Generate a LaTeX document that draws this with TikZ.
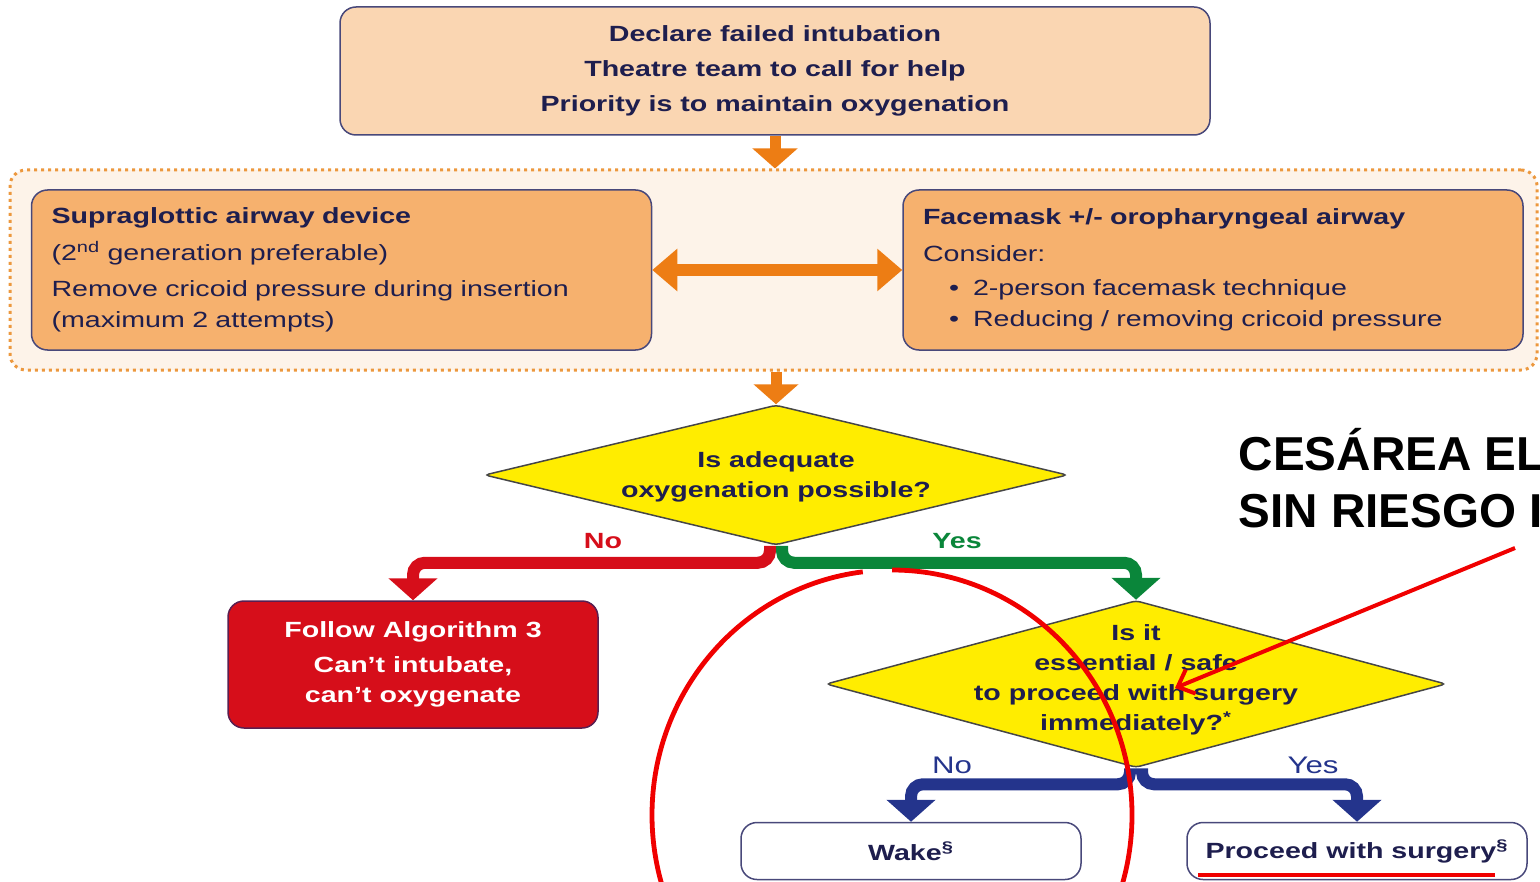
\documentclass[tikz,border=0pt]{standalone}
\usepackage{fontspec}
\setmainfont{Liberation Sans}[FakeStretch=1.3]
\newfontfamily\notefont{Liberation Sans}
\usetikzlibrary{arrows.meta,shapes.geometric}

\definecolor{peach}{RGB}{250,214,178}
\definecolor{amber}{RGB}{246,177,110}
\definecolor{shell}{RGB}{253,243,233}
\definecolor{dots}{RGB}{236,152,62}
\definecolor{flow}{RGB}{237,125,20}
\definecolor{ink}{RGB}{30,30,78}
\definecolor{edge}{RGB}{72,72,122}
\definecolor{lemon}{RGB}{255,237,0}
\definecolor{rim}{RGB}{70,70,70}
\definecolor{alarm}{RGB}{214,14,26}
\definecolor{plum}{RGB}{90,30,80}
\definecolor{go}{RGB}{10,134,58}
\definecolor{deep}{RGB}{36,52,140}
\definecolor{marker}{RGB}{240,0,0}

\tikzset{every picture/.style={line width=0.75pt}}
\tikzset{
  topbox/.style={draw=edge, fill=peach, rounded corners=8pt, minimum width=435pt, minimum height=64pt,
    align=center, text=ink, font=\bfseries\fontsize{11}{17.5}\selectfont},
  optbox/.style={draw=edge, fill=amber, rounded corners=8pt, minimum width=310pt, minimum height=80pt,
    text width=290pt, align=left, text=ink, font=\fontsize{11}{15.5}\selectfont},
  group/.style={draw=dots, fill=shell, dotted, line width=1.5pt, rounded corners=8pt,
    minimum width=763.5pt, minimum height=100pt},
  decision/.style={diamond, draw=rim, fill=lemon, rounded corners=2pt, inner sep=0pt, aspect=4},
  asktext/.style={align=center, text=ink, inner sep=0pt, font=\bfseries\fontsize{11}{15}\selectfont},
  alertbox/.style={draw=plum, fill=alarm, rounded corners=8pt, minimum width=185pt, minimum height=63.5pt,
    align=center, text=white, font=\bfseries\fontsize{11}{15}\selectfont},
  endbox/.style={draw=edge, fill=white, rounded corners=8pt, minimum width=170pt, minimum height=28.5pt,
    text=ink, font=\bfseries\fontsize{11}{13}\selectfont},
  pipe/.style={draw=flow, line width=5.5pt, -{Triangle[width=22pt,length=10pt]}},
  twoway/.style={draw=flow, line width=6pt, {Triangle[width=20.5pt,length=12.5pt]}-{Triangle[width=20.5pt,length=12.5pt]}},
  branch/.style={line width=6pt, rounded corners=6pt, -{Triangle[width=24pt,length=11pt]}},
  tag/.style={inner sep=0pt, font=\bfseries\fontsize{11}{13}\selectfont},
  bluetag/.style={inner sep=0pt, text=deep, font=\fontsize{12}{13}\selectfont},
  shout/.style={anchor=base west, inner sep=0pt, font=\notefont\bfseries\fontsize{23.8}{28}\selectfont},
  ink pen/.style={draw=marker, line width=2pt}
}

\begin{document}
\begin{tikzpicture}[x=0.5pt,y=0.5pt,yscale=-1,xscale=1]
  \useasboundingbox (0,0) rectangle (1540,882);
  \clip (0,0) rectangle (1540,882);

  \node[group] (plan) at (773.5,270) {};
  \node[topbox] (declare) at (775,71) {Declare failed intubation\\Theatre team to call for help\\Priority is to maintain oxygenation};
  \node[optbox] (sad) at (341.5,270) {{\bfseries Supraglottic airway device}\\[3pt]
    (2\textsuperscript{nd} generation preferable)\\[2.5pt]
    Remove cricoid pressure during insertion\\
    (maximum 2 attempts)};
  \node[optbox] (mask) at (1213,270) {{\bfseries Facemask +/- oropharyngeal airway}\\[3pt]
    Consider:\\[1.5pt]
    \hspace*{13pt}\textbullet\hspace{7pt}2-person facemask technique\\
    \hspace*{13pt}\textbullet\hspace{7pt}Reducing / removing cricoid pressure};

  \node[decision, minimum width=291.5pt, minimum height=70pt] (oxy) at (776,475) {};
  \node[asktext] (oxytext) at (776,477) {Is adequate\\oxygenation possible?};
  \node[alertbox] (cico) at (413,664.5) {Follow Algorithm 3\\[2.5pt]Can’t intubate,\\can’t oxygenate};

  \node[decision, minimum width=310pt, minimum height=83.5pt] (proceed) at (1136,684) {};
  \node[asktext] (proceedtext) at (1136,680) {Is it\\essential / safe\\to proceed with surgery\\immediately?\textsuperscript{*}};

  \node[endbox] (wake) at (911,851) {Wake\textsuperscript{\S}};
  \node[endbox] (surgery) at (1357,851) {Proceed with surgery\textsuperscript{\S}};

  \draw[pipe] (declare.south) -- (declare.south |- plan.north);
  \draw[twoway] (sad.east) -- (mask.west);
  \draw[pipe] (plan.south -| oxy.north) -- (oxy.north);

  \draw[branch, draw=alarm] ([xshift=-3pt]oxy.south) -- ++(0,17) -| (cico.north);
  \draw[branch, draw=go] ([xshift=3pt]oxy.south) -- ++(0,17) -| (proceed.north);
  \draw[branch, draw=deep] ([xshift=-3pt]proceed.south) -- ++(0,16) -| (wake.north);
  \draw[branch, draw=deep] ([xshift=3pt]proceed.south) -- ++(0,16) -| (surgery.north);

  \node[tag, text=alarm] (oxyno) at (603,541) {No};
  \node[tag, text=go] (oxyyes) at (957,541) {Yes};
  \node[bluetag] (proceedno) at (952,765) {No};
  \node[bluetag] (proceedyes) at (1313,765) {Yes};

  \node[shout] (noteone) at (1238,470) {CESÁREA EL};
  \node[shout] (notetwo) at (1238,527) {SIN RIESGO I};

  \coordinate (pointtail) at (1515,548);
  \coordinate (pointtip) at (1175,688);
  \draw[ink pen, -{Straight Barb[length=7pt,width=13pt]}] (pointtail) -- (pointtip);
  \draw[ink pen, line width=2.4pt] (892,815) ++(-90:240 and 245) arc[start angle=-90, end angle=263, x radius=240, y radius=245];
  \draw[ink pen] (1198,875) -- (1495,875);
\end{tikzpicture}
\end{document}
